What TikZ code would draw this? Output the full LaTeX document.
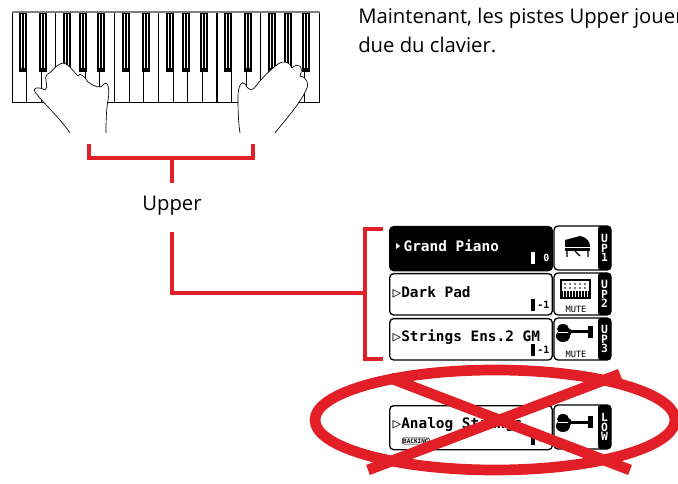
\documentclass[tikz,border=0pt]{standalone}
\usepackage{fontspec}
\setmainfont{Open Sans}
\newfontfamily\lcd{DejaVu Sans Mono}
\definecolor{redl}{RGB}{226,30,38}
\begin{document}
\begin{tikzpicture}[x=0.75pt,y=-0.75pt,
  redline/.style={draw=redl,line width=2.6pt},
  tbox/.style={draw,line width=1pt,rounded corners=3pt},
  lbl/.style={font=\lcd\bfseries\fontsize{10.8}{11}\selectfont,anchor=west,inner sep=1pt},
  hand/.style={draw,line width=0.5pt}]
\useasboundingbox (0,0) rectangle (678,484);
% keyboard
\foreach \g in {0,1,2}{
  \pgfmathsetmacro\gx{12+\g*102.5}
  \foreach \k in {0,...,6}{
    \draw[line width=0.6pt,fill=white] ({\gx+\k*14.6},12) rectangle ({\gx+(\k+1)*14.6},102);}
  \foreach \b in {11,31,55,71,89}{
    \fill ({\gx+\b-4},12) rectangle ({\gx+\b+4},72);
    \draw[white,line width=0.5pt] ({\gx+\b-1.5},14) -- ({\gx+\b-1.5},68);
    \draw[white,line width=0.5pt] ({\gx+\b+1.5},14) -- ({\gx+\b+1.5},68);}
}
\draw[line width=1pt,gray] (12,12) -- (320,12);
% hands (schematic)
\path[hand,fill=white] (70,133) .. controls (60,118) and (45,105) .. (35,92)
  .. controls (32,88) and (38,86) .. (45,90)
  .. controls (50,85) and (42,78) .. (48,74)
  .. controls (52,72) and (55,66) .. (60,64)
  .. controls (66,60) and (72,70) .. (78,76)
  .. controls (80,72) and (84,76) .. (88,82)
  .. controls (94,86) and (100,90) .. (104,84)
  .. controls (108,80) and (110,90) .. (108,100)
  .. controls (106,112) and (106,124) .. (106,133);
\path[hand,fill=white] (240,133) .. controls (238,120) and (238,106) .. (238,96)
  .. controls (238,86) and (242,80) .. (245,84)
  .. controls (248,90) and (252,92) .. (256,86)
  .. controls (262,78) and (270,70) .. (278,64)
  .. controls (284,60) and (290,62) .. (292,68)
  .. controls (298,62) and (304,66) .. (300,76)
  .. controls (306,76) and (310,84) .. (306,90)
  .. controls (300,104) and (285,120) .. (275,133);
% text
\begin{scope}
\clip (340,0) rectangle (678,484);
\node[anchor=west,inner sep=0pt,font=\fontsize{15.2}{17}\selectfont] (t) at (358,18) {Maintenant, les pistes Upper jouent};
\node[anchor=west,inner sep=0pt,font=\fontsize{15.2}{17}\selectfont] (t2) at (358,45) {due du clavier.};
\end{scope}
% red bracket top
\draw[redline] (89,144) -- (89,158) -- (253,158) -- (253,144);
\draw[redline] (172,158) -- (172,183);
\node[font=\fontsize{15.2}{17}\selectfont] (up) at (172,206) {Upper};
\draw[redline] (172,232) -- (172,293) -- (365,293);
\draw[redline] (383,229) -- (365,229) -- (365,359) -- (383,359);
% track boxes
\node[tbox,fill=black,minimum width=122pt,minimum height=33pt,anchor=north west] (t1) at (389,226) {};
\fill[white] (396,243) -- (400,246) -- (396,249) -- cycle;
\node[lbl,text=white] at (402,246) {Grand Piano};
\node[tbox,minimum width=122pt,minimum height=31pt,anchor=north west] (b2) at (389,273) {};
\node[lbl] at (391,292) {▷Dark Pad};
\node[tbox,minimum width=122pt,minimum height=31pt,anchor=north west] (b3) at (389,318) {};
\node[lbl] at (391,337) {▷Strings Ens.2 GM};
\node[tbox,minimum width=122pt,minimum height=33pt,anchor=north west] (b4) at (389,405) {};
\node[lbl] at (391,424) {▷Analog Strings};
% small indicators
\foreach \y/\t/\c in {258/0/white,305/-1/black,350/-1/black,439/+1/black}{
  \node[font=\lcd\bfseries\fontsize{7.5}{7}\selectfont,text=\c,anchor=east,inner sep=1pt] at (551,\y) {\t};
  \fill[\c] (531,{\y-6}) rectangle (535,{\y+6});}
\node[font=\lcd\bfseries\fontsize{4.5}{5}\selectfont,draw,rounded corners=1.5pt,inner sep=0.7pt,anchor=west] at (402,441) {BACKING};
% icon boxes
\foreach \y/\h/\a/\b/\c/\m in {226/44/U/P/1/,273/42/U/P/2/MUTE,318/42/U/P/3/MUTE,405/44/L/O/W/}{
  \draw[tbox] (554,\y) rectangle (611,{\y+\h});
  \fill[rounded corners=2pt] (598,\y) rectangle (611,{\y+\h});
  \node[text=white,font=\lcd\bfseries\fontsize{8.5}{8}\selectfont,align=center,inner sep=0pt] at (604.5,{\y+\h/2}) {\a\\[-1pt]\b\\[-1pt]\c};
  \node[font=\lcd\fontsize{6.5}{6}\selectfont,inner sep=0pt] at (576,{\y+\h-6}) {\m};
}
% piano icon
\fill (565,240) -- (580,236) .. controls (588,238) and (590,242) .. (590,247) -- (565,247) -- cycle;
\fill (565,248) rectangle (590,251);
\draw[line width=1pt] (567,251) -- (567,257) (588,251) -- (588,257) (575,251) -- (580,256);
% keyboard icon
\draw[line width=1pt] (561,280) rectangle (590,298);
\foreach \i in {0,...,4}{\fill ({565+\i*5},284) circle (0.9); \fill ({565+\i*5},288) circle (0.9);}
\foreach \i in {0,...,9}{\draw[line width=0.8pt] ({562+\i*3},291) -- ({562+\i*3},297);}
% violin icons
\foreach \y in {332,422}{
  \fill (563,{\y-3}) ellipse (6 and 5);
  \fill (563,{\y+4}) ellipse (7 and 6);
  \fill (567,\y) ellipse (5 and 4);
  \fill (570,{\y-1.5}) rectangle (590,{\y+1.5});
  \fill (588,{\y-6}) rectangle (593,{\y+6});
  \draw[white,line width=0.6pt] (558,\y) -- (568,\y);
}
% red cross
\draw[redl,line width=8pt] (495,420) ellipse (180 and 50);
\draw[redl,line width=8pt] (390,378) -- (630,470);
\draw[redl,line width=8pt] (620,374) -- (368,470);
\end{tikzpicture}
\end{document}
